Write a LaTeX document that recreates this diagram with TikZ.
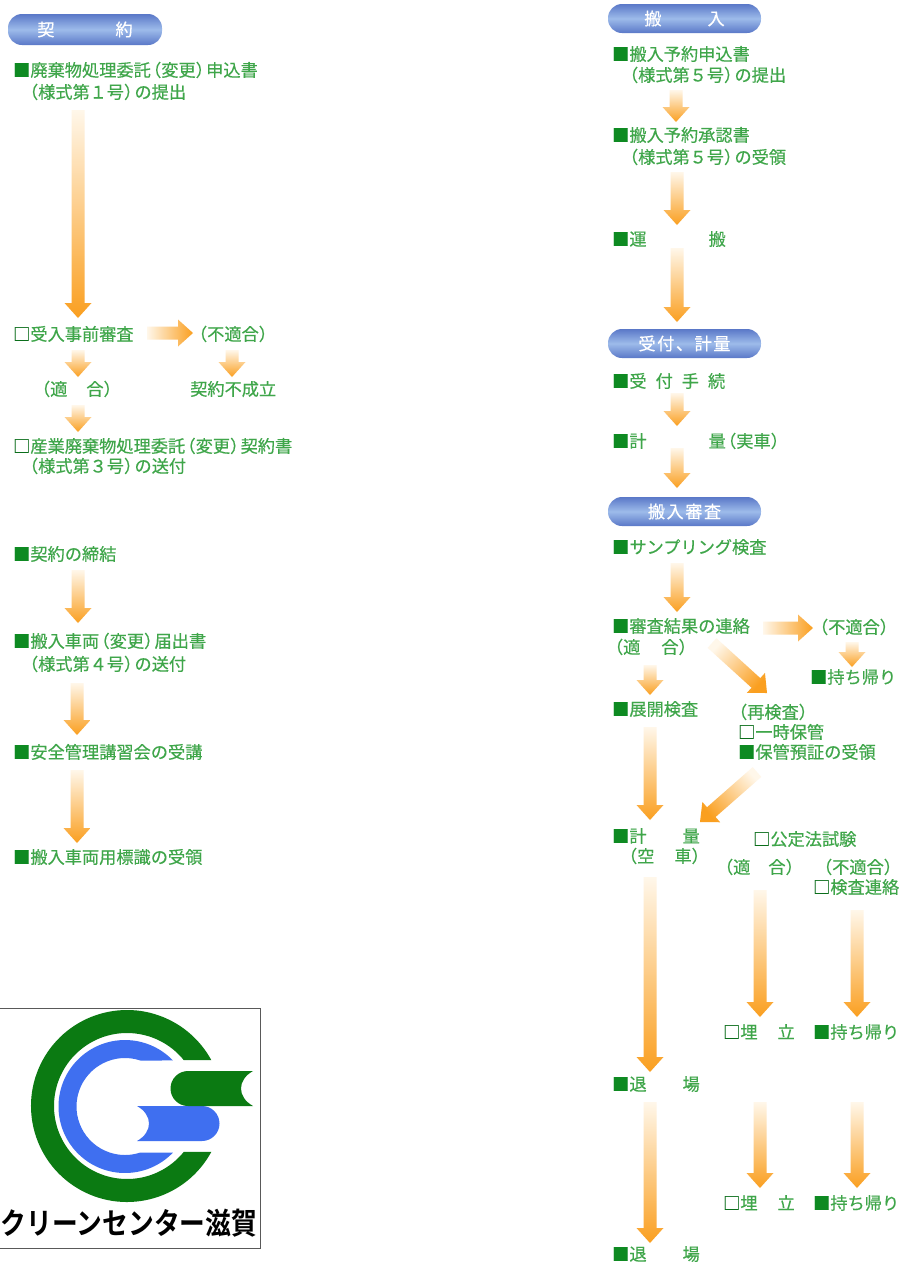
\documentclass[tikz,border=0pt]{standalone}
\usepackage{fontspec}
\usetikzlibrary{calc}
\newfontfamily\cjk[FakeBold=0.4]{Noto Sans CJK JP}
\newfontfamily\cjkb{Noto Sans CJK JP Bold}
\definecolor{txtg}{HTML}{3FA64A}
\definecolor{sqg}{HTML}{0E8A22}
\definecolor{headc}{HTML}{FA9F20}
\definecolor{tailc}{HTML}{FFF7EA}
\definecolor{pilla}{HTML}{5A78C8}
\definecolor{pillb}{HTML}{9DBBEA}
\definecolor{logog}{HTML}{0B7A12}
\definecolor{logob}{HTML}{3F6FF0}
\newcommand\bs{\textcolor{sqg}{■}}
\newcommand\ws{\textcolor{sqg!80!black}{□}}
\newcommand\lp{\makebox[12pt][r]{（}}
\newcommand\rp{\makebox[12pt][l]{）}}
\newcommand\lpn{\makebox[10.5pt][r]{（}}
\newcommand\rpn{\makebox[10.5pt][l]{）}}
\newcommand\dg[1]{\makebox[17pt]{#1}}
\newcommand\garrow[4]{%
  \pgfmathanglebetweenpoints{\pgfpointanchor{#1}{center}}{\pgfpointanchor{#2}{center}}%
  \pgfmathsetmacro\shang{\pgfmathresult-90}%
  \coordinate (#1n) at ($(#2)!#4pt!(#1)$);
  \shade[top color=headc,bottom color=tailc,shading angle=\shang]
    ($(#1)!6.5pt!90:(#2)$) -- ($(#1n)!6.5pt!90:(#2)$) -- ($(#1n)!#3pt!90:(#2)$) -- (#2)
    -- ($(#1n)!#3pt!-90:(#2)$) -- ($(#1n)!6.5pt!-90:(#2)$) -- ($(#1)!6.5pt!-90:(#2)$) -- cycle;
}
\newcommand\arw[5]{% name x1 y1 x2 y2
  \coordinate (#1s) at (#2,#3);
  \coordinate (#1e) at (#4,#5);
  \garrow{#1s}{#1e}{13.5}{15}
}
\newcommand\pill[6]{% name x1 y1 x2 y2 label
  \shade[top color=pilla,bottom color=pilla,middle color=pillb,rounded corners=14pt]
    (#2,#3) rectangle (#4,#5);
  \node[pilllabel] (#1) at ({(#2+#4)/2},{(#3+#5)/2}) {#6};
}
\tikzset{
  lbl/.style={anchor=west,inner sep=0pt,text=txtg,text height=14pt,text depth=3pt,
    font=\cjk\fontsize{17.2}{17.2}\selectfont},
  pilllabel/.style={inner sep=0pt,text=white,font=\cjk\fontsize{17.2}{17.2}\selectfont},
}
\begin{document}
\begin{tikzpicture}[x=1pt,y=-1pt]
\useasboundingbox (0,0) rectangle (901,1262);
\fill[white] (0,0) rectangle (901,1262);
% ---------- arrows left
\arw{a}{78}{110}{78}{318}
\arw{b}{147}{333}{193}{333}
\arw{c}{232}{350}{232}{377}
\arw{d}{78}{350}{78}{377}
\arw{e}{78}{405}{78}{432}
\arw{f}{78}{570}{78}{623}
\arw{g}{77}{683}{77}{735}
\arw{h}{77}{770}{77}{843}
% ---------- arrows right
\arw{i}{676}{90}{676}{122}
\arw{j}{677}{172}{677}{225}
\arw{k}{677}{248}{677}{322}
\arw{l}{677}{393}{677}{426}
\arw{m}{677}{448}{677}{488}
\arw{n}{677}{563}{677}{612}
\arw{o}{763}{628}{813}{628}
\arw{p}{852}{642}{852}{667}
\arw{q}{650}{665}{650}{695}
\arw{r}{712}{643}{767}{693}
\arw{s}{650}{727}{650}{820}
\arw{t}{757}{772}{700}{822}
\arw{u}{650}{877}{650}{1072}
\arw{v}{760}{890}{760}{1017}
\arw{w}{857}{910}{857}{1017}
\arw{x}{650}{1102}{650}{1243}
\arw{y}{760}{1102}{760}{1188}
\arw{z}{857}{1102}{857}{1188}
% ---------- pills
\pill{p1}{8}{14}{162}{45}{契\hspace{61pt}約}
\pill{p2}{608}{4}{761}{33}{搬\hspace{46pt}入}
\pill{p3}{608}{329}{761}{358}{受\hspace{1.5pt}付\hspace{1.5pt}、\hspace{1.5pt}計\hspace{1.5pt}量}
\pill{p4}{608}{497}{761}{526}{搬\hspace{1.5pt}入\hspace{1.5pt}審\hspace{1.5pt}査}
% ---------- left texts
\node[lbl] (t1) at (13,71) {\bs 廃棄物処理委託\lpn 変更\rpn 申込書};
\node[lbl] (t2) at (27.5,93) {\lpn 様式第\dg{１}号\rpn の提出};
\node[lbl] (t3) at (13,335) {\ws 受入事前審査};
\node[lbl] (t4) at (195,335) {\lp 不適合\rp};
\node[lbl] (t5) at (38,390) {\lp 適\hspace{19pt}合\rp};
\node[lbl] (t6) at (190,390) {契約不成立};
\node[lbl] (t7) at (13,447) {\ws 産業廃棄物処理委託\lpn 変更\rpn 契約書};
\node[lbl] (t8) at (27.5,467) {\lpn 様式第\dg{３}号\rpn の送付};
\node[lbl] (t9) at (13,555) {\bs 契約の締結};
\node[lbl] (t10) at (13,642) {\bs 搬入車両\lpn 変更\rpn 届出書};
\node[lbl] (t11) at (27.5,665) {\lpn 様式第\dg{４}号\rpn の送付};
\node[lbl] (t12) at (13,753) {\bs 安全管理講習会の受講};
\node[lbl] (t13) at (13,858) {\bs 搬入車両用標識の受領};
% ---------- right texts
\node[lbl] (r1) at (612,55) {\bs 搬入予約申込書};
\node[lbl] (r2) at (627.5,76) {\lpn 様式第\dg{５}号\rpn の提出};
\node[lbl] (r3) at (612,136) {\bs 搬入予約承認書};
\node[lbl] (r4) at (627.5,158) {\lpn 様式第\dg{５}号\rpn の受領};
\node[lbl] (r5) at (612,240) {\bs 運\hspace{62pt}搬};
\node[lbl] (r6) at (612,382) {\bs 受\hspace{9pt}付\hspace{9pt}手\hspace{9pt}続};
\node[lbl] (r7) at (612,442) {\bs 計\hspace{62pt}量\lpn 実車\rpn};
\node[lbl] (r8) at (612,548) {\bs サンプリング検査};
\node[lbl] (r9) at (612,627) {\bs 審査結果の連絡};
\node[lbl] (r10) at (816,628) {\lp 不適合\rp};
\node[lbl] (r11) at (611,648) {\lp 適\hspace{21pt}合\rp};
\node[lbl] (r12) at (810,678) {\bs 持ち帰り};
\node[lbl] (r13) at (612,710) {\bs 展開検査};
\node[lbl] (r14) at (735,713) {\lp 再検査\rp};
\node[lbl] (r15) at (738,733) {\ws 一時保管};
\node[lbl] (r16) at (738,753) {\bs 保管預証の受領};
\node[lbl] (r17) at (612,837) {\bs 計\hspace{36pt}量};
\node[lbl] (r18) at (625,857) {\lp 空\hspace{20pt}車\rp};
\node[lbl] (r19) at (753,840) {\ws 公定法試験};
\node[lbl] (r20) at (721,868) {\lp 適\hspace{18pt}合\rp};
\node[lbl] (r21) at (820,868) {\lp 不適合\rp};
\node[lbl] (r22) at (813,888) {\ws 検査連絡};
\node[lbl] (r23) at (723,1033) {\ws 埋\hspace{20pt}立};
\node[lbl] (r24) at (813,1033) {\bs 持ち帰り};
\node[lbl] (r25) at (612,1085) {\bs 退\hspace{36pt}場};
\node[lbl] (r26) at (723,1204) {\ws 埋\hspace{20pt}立};
\node[lbl] (r27) at (813,1204) {\bs 持ち帰り};
\node[lbl] (r28) at (612,1255) {\bs 退\hspace{36pt}場};
% ---------- logo
\draw[gray!70!black,line width=0.8pt] (-1,1008) rectangle (260,1248);
\fill[logog] (127,1106) ++(28.6:96) arc[start angle=28.6,end angle=331.4,radius=96]
  -- ($(127,1106)+(-39:73)$) arc[start angle=-39,end angle=-321,radius=73] -- cycle;
\fill[logob] (125,1106.5) ++(43.8:66.5) arc[start angle=43.8,end angle=316.2,radius=66.5]
  -- ($(125,1106.5)+(-71.5:48.5)$) arc[start angle=-71.5,end angle=-288.5,radius=48.5] -- cycle;
\fill[logob] (137,1106) -- (202,1106) arc[start angle=-90,end angle=90,radius=17.5] -- (137,1141)
  .. controls (153,1132) and (153,1115) .. (137,1106) -- cycle;
\fill[logog] (253,1071) -- (188,1071) arc[start angle=-90,end angle=-270,radius=17.5] -- (253,1106)
  .. controls (237,1097) and (237,1080) .. (253,1071) -- cycle;
\node[inner sep=0pt,text=black,font=\cjkb\fontsize{26}{26}\selectfont] (logotext) at (129,1223) {\scalebox{0.99}[1.15]{クリーンセンター滋賀}};
\end{tikzpicture}
\end{document}
